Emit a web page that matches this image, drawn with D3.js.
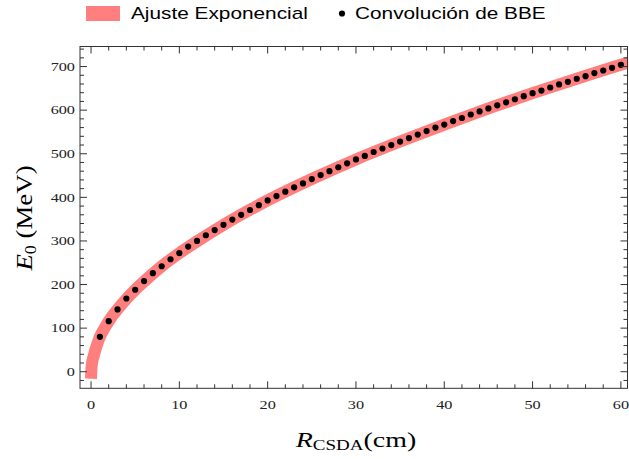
<!DOCTYPE html>
<html><head><meta charset="utf-8">
<script src="https://cdn.jsdelivr.net/npm/d3@7/dist/d3.min.js"></script>
<style>body{margin:0;background:#fff}svg{display:block}</style>
</head><body>
<svg id="c" width="629" height="459"></svg>
<script>
// Data
const pointsR = [1,2,3,4,5,6,7,8,9,10,11,12,13,14,15,16,17,18,19,20,21,22,23,24,25,26,27,28,29,30,31,32,33,34,35,36,37,38,39,40,41,42,43,44,45,46,47,48,49,50,51,52,53,54,55,56,57,58,59,60];
const pointsE = [80,116,143,168,188,208,226,242,258,272,287,300,313,325,337,349,360,371,382,393,403,413,423,432,442,451,460,469,478,487,495,504,512,520,528,536,544,552,560,567,575,582,590,597,604,611,618,625,632,639,645,652,659,665,672,678,685,691,697,704];
const fitR = [0,0.03,0.06,0.1,0.2,0.33,0.5,0.75,1,1.5,2,3,4,5,6,8,10,12,15,20,25,30,35,40,45,50,55,60,62];
const fitE = [-16,0,11,18,29,38,51,66,80,99,116,143,167,188,207,242,272,299,337,393,442,487,528,567,604,639,672,704,716];
const xTicks = [0,10,20,30,40,50,60];
const yTicks = [0,100,200,300,400,500,600,700];
const legendLabels = ["Ajuste Exponencial","Convolución de BBE"];

const svg = d3.select("#c");
const L=80, R=627.5, T=46.5, B=388.3;
const x = d3.scaleLinear([-1.25, 60.75],[L,R]);
const y = d3.scaleLinear([-38, 746],[B,T]);
const SX = 1.3;
const band = "#FF7F7F";

svg.append("defs").append("clipPath").attr("id","clip")
  .append("rect").attr("x",L).attr("y",T).attr("width",R-L).attr("height",B-T);

// fit band
const fit = fitR.map((r,i)=>[r,fitE[i]]);
svg.append("path").attr("clip-path","url(#clip)")
  .attr("d", d3.line().x(d=>x(d[0])).y(d=>y(d[1])).curve(d3.curveMonotoneX)(fit))
  .attr("fill","none").attr("stroke",band).attr("stroke-width",12).attr("stroke-linecap","butt");

// points
svg.append("g").selectAll("circle").data(pointsR).join("circle")
  .attr("cx",d=>x(d)).attr("cy",(d,i)=>y(pointsE[i])).attr("r",3.1).attr("fill","#000");

// frame
const fc = "#333";
svg.append("rect").attr("x",L).attr("y",T).attr("width",R-L).attr("height",B-T)
  .attr("fill","none").attr("stroke",fc).attr("stroke-width",1);

const tg = svg.append("g").attr("stroke",fc).attr("stroke-width",1);
const xMinor = d3.range(0,61,2);
const yMinor = d3.range(-20,741,20);
xMinor.forEach(v=>{
  const len = (v%10===0)?7:4; const px = x(v);
  tg.append("line").attr("x1",px).attr("x2",px).attr("y1",B).attr("y2",B-len);
  tg.append("line").attr("x1",px).attr("x2",px).attr("y1",T).attr("y2",T+len);
});
yMinor.forEach(v=>{
  const len = (v%100===0)?7:4; const py = y(v);
  tg.append("line").attr("x1",L).attr("x2",L+len).attr("y1",py).attr("y2",py);
  tg.append("line").attr("x1",R).attr("x2",R-len).attr("y1",py).attr("y2",py);
});

// tick labels
const tf = "'Liberation Serif','Times New Roman',serif";
xTicks.forEach(v=>{
  svg.append("text").attr("transform",`translate(${x(v)},408.5) scale(${SX},1)`)
    .attr("text-anchor","middle").attr("font-family",tf).attr("font-size",12.5).attr("fill","#222").text(v);
});
yTicks.forEach(v=>{
  svg.append("text").attr("transform",`translate(75,${y(v)+4.3}) scale(${SX},1)`)
    .attr("text-anchor","end").attr("font-family",tf).attr("font-size",12.5).attr("fill","#222").text(v);
});

// axis labels
const xl = svg.append("text").attr("transform",`translate(356,447) scale(1.27,1)`)
  .attr("text-anchor","middle").attr("font-family",tf).attr("font-size",22).attr("fill","#000");
xl.append("tspan").attr("font-style","italic").text("R");
xl.append("tspan").attr("font-size",15).attr("dy",3).text("CSDA");
xl.append("tspan").attr("dy",-3).text("(cm)");

const yl = svg.append("text").attr("transform",`translate(32,218) rotate(-90) scale(1.12,1)`)
  .attr("text-anchor","middle").attr("font-family",tf).attr("font-size",24).attr("fill","#000");
yl.append("tspan").attr("font-style","italic").text("E");
yl.append("tspan").attr("font-size",16).attr("dy",4).text("0");
yl.append("tspan").attr("dy",-4).text(" (MeV)");

// legend
const lf = "'Liberation Sans',Arial,sans-serif";
svg.append("rect").attr("x",86).attr("y",6).attr("width",34).attr("height",15).attr("fill",band);
svg.append("text").attr("transform",`translate(131,18.5) scale(${SX},1)`)
  .attr("font-family",lf).attr("font-size",16).attr("fill","#000").text(legendLabels[0]);
svg.append("circle").attr("cx",342).attr("cy",13.5).attr("r",3.1).attr("fill","#000");
svg.append("text").attr("transform",`translate(355,18.5) scale(${SX},1)`)
  .attr("font-family",lf).attr("font-size",16).attr("fill","#000").text(legendLabels[1]);
</script>
</body></html>
